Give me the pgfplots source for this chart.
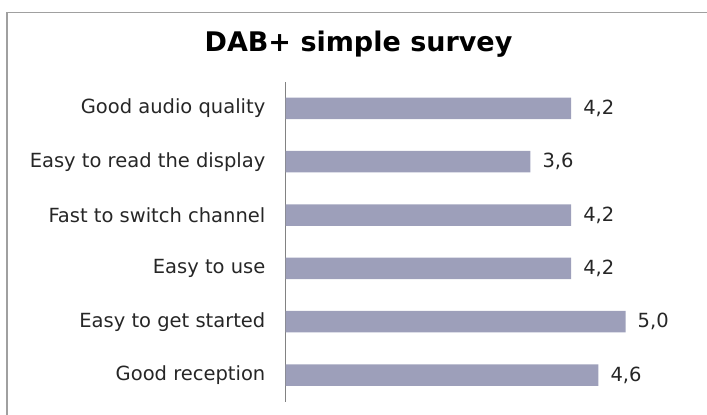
\documentclass[border=0pt]{standalone}
\usepackage{fontspec}
\setmainfont{DejaVu Sans}
\usepackage{pgfplots}
\pgfplotsset{compat=1.18}
\definecolor{barc}{RGB}{157,159,186}
\definecolor{framec}{RGB}{160,160,160}
\definecolor{axc}{RGB}{130,130,130}
\begin{document}
\begin{tikzpicture}[x=1pt,y=1pt]
\useasboundingbox (0,0) rectangle (707,415);
\draw[framec, line width=1.3pt] (7,-2) -- (7,402.5) -- (709,402.5);
\node[anchor=base, inner sep=0pt, font=\bfseries\fontsize{27}{32}\selectfont] at (358.5,363.3) {DAB+ simple survey};
\begin{axis}[
  at={(285.5pt,13.3pt)}, anchor=south west,
  scale only axis, width=408pt, height=320pt,
  xmin=0, xmax=6, ymin=-0.5, ymax=5.5,
  xbar, bar width=21.5pt,
  axis x line=none, axis y line*=left,
  y axis line style={-, draw=axc, line width=1pt},
  ytick={0,1,2,3,4,5},
  yticklabels={Good reception, Easy to get started, Easy to use, Fast to switch channel, Easy to read the display, Good audio quality},
  xtick=\empty, major tick length=0pt,
  yticklabel style={font=\fontsize{19.5}{23}\selectfont, inner sep=0pt, xshift=-20pt, text=black!85},
  nodes near coords={\pgfmathprintnumber[assume math mode=true, use comma, fixed, fixed zerofill, precision=1]{\pgfplotspointmeta}},
  nodes near coords style={font=\fontsize{19.5}{23}\selectfont, inner sep=0pt, xshift=12pt, text=black!85},
  clip=false,
]
\addplot[fill=barc, draw=none] coordinates {(4.6,0) (5.0,1) (4.2,2) (4.2,3) (3.6,4) (4.2,5)};
\end{axis}
\end{tikzpicture}
\end{document}
